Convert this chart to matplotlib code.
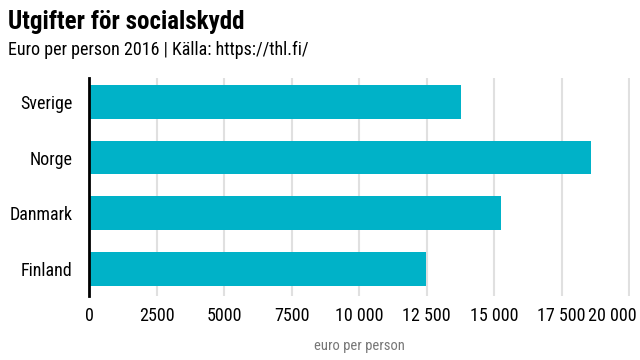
import matplotlib
matplotlib.use("Agg")
import matplotlib.pyplot as plt
import matplotlib.transforms as mtrans
from matplotlib import font_manager as fm

names = {f.name for f in fm.fontManager.ttflist}
cands = ["Roboto Condensed", "Liberation Sans Narrow", "DejaVu Sans Condensed", "Roboto", "DejaVu Sans"]
fam = [c for c in cands if c in names][0]
plt.rcParams['font.family'] = [fam, 'DejaVu Sans']

countries = ["Finland", "Danmark", "Norge", "Sverige"]
values = [12460, 15270, 18570, 13790]
xticks = [0, 2500, 5000, 7500, 10000, 12500, 15000, 17500, 20000]
xticklabels = ["0", "2500", "5000", "7500", "10 000", "12 500", "15 000", "17 500", "20 000"]

fig = plt.figure(figsize=(6.4, 3.6), dpi=100)
ax = fig.add_axes([89/640, 1-296/360, (630-89)/640, (296-78)/360])
ypos = list(range(len(countries)))
ax.barh(ypos, values, height=0.61, color="#00B2C8", zorder=2)
ax.set_xlim(0, 20030)
ax.set_ylim(-0.49, 3.43)
ax.set_yticks(ypos)
ax.set_yticklabels(countries, fontsize=13)
ax.set_xticks(xticks)
ax.set_xticklabels(xticklabels, fontsize=13)
ax.tick_params(length=0, pad=8)
ax.tick_params(axis='y', pad=12)
ax.grid(axis='x', color="#e0e0e0", linewidth=1.5, zorder=0)
for s in ["top", "right", "bottom"]:
    ax.spines[s].set_visible(False)
ax.spines["left"].set_linewidth(2)
ax.spines["left"].set_color("black")
ax.spines["left"].set_zorder(3)
last = ax.get_xticklabels()[-1]
last.set_transform(last.get_transform() + mtrans.ScaledTranslation(-17/100, 0, fig.dpi_scale_trans))
fig.text(359/640, 1-346/360, "euro per person", ha="center", va="center", fontsize=10.5, color="#777777")
fig.text(8/640, 1-22/360, "Utgifter för socialskydd", ha="left", va="center", fontsize=18, fontweight="bold")
fig.text(8/640, 1-50/360, "Euro per person 2016 | Källa: https://thl.fi/", ha="left", va="center", fontsize=13)
fig.savefig("out.png", dpi=100)
